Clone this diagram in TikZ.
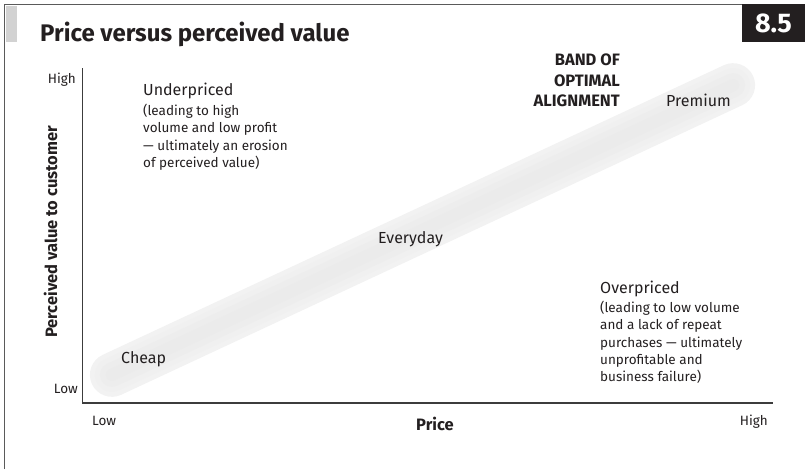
\documentclass[tikz,border=0pt]{standalone}
\usepackage{fontspec}
\setmainfont{Fira Sans}
\begin{document}
\definecolor{framegray}{HTML}{5A5A5A}
\definecolor{axisgray}{HTML}{3C3C3C}
\definecolor{bargray}{HTML}{D2D2D2}
\definecolor{boxblack}{HTML}{231F20}
\definecolor{txt}{HTML}{231F20}
\tikzset{
  lbl/.style={inner sep=0pt, text=txt, font=\fontsize{16}{19}\selectfont},
  sub/.style={inner sep=0pt, text=txt, align=left, font=\fontsize{13.5}{17.2}\selectfont},
  tick/.style={inner sep=0pt, text=txt, font=\fontsize{13.5}{15}\selectfont},
  bold/.style={inner sep=0pt, text=txt, font=\fontsize{16.5}{20.5}\bfseries\selectfont},
}
\begin{tikzpicture}[x=1pt,y=-1pt]
\useasboundingbox (0,0) rectangle (805,469);
% frame
\fill[bargray] (5.5,5.5) rectangle (16.5,42);
\draw[framegray, line width=1.6pt] (4.5,469) -- (4.5,4.5) -- (742,4.5);
\node[fill=boxblack, minimum width=63pt, minimum height=37.5pt, inner sep=0pt, anchor=north west] (badge) at (742,4) {};
\node[inner sep=0pt, anchor=base, text=white, font=\fontsize{27}{27}\bfseries\selectfont] (num) at (773.5,32) {8.5};
\node[inner sep=0pt, anchor=base west, text=txt, font=\fontsize{24}{26}\bfseries\selectfont] (title) at (40,41) {Price versus perceived value};
% band
\begin{scope}[shift={(422.5,230)}, rotate=25]
  \shade[left color=black!5, middle color=black!12, right color=black!5, rounded corners=22pt] (-364.7,-22) rectangle (364.7,22);
  \shade[left color=black!6, middle color=black!15, right color=black!6, rounded corners=17pt] (-359.7,-17) rectangle (359.7,17);
  \shade[left color=black!7, middle color=black!18, right color=black!7, rounded corners=12pt] (-354.7,-12) rectangle (354.7,12);
  \shade[left color=black!8, middle color=black!21, right color=black!8, rounded corners=6pt] (-348.7,-6) rectangle (348.7,6);
\end{scope}
% axes
\coordinate (ytop) at (82.5,68);
\coordinate (orig) at (82.5,403);
\coordinate (xend) at (772.5,403);
\draw[axisgray, line width=1.5pt] (ytop) -- (orig) -- (xend);
% ticks
\node[tick, anchor=base east] (yhigh) at (76,83) {High};
\node[tick, anchor=base east] (ylow) at (78,393) {Low};
\node[tick, anchor=base west] (xlow) at (92,425) {Low};
\node[tick, anchor=base east] (xhigh) at (768,425) {High};
\node[bold, anchor=base] (xlab) at (435,430) {Price};
\node[bold, anchor=base, rotate=90] (ylab) at (57,232) {Perceived value to customer};
% labels
\node[lbl, anchor=base west] (under) at (143,95.7) {Underpriced};
\node[sub, anchor=north west] (undersub) at (143,104) {(leading to high\\volume and low profit\\— ultimately an erosion\\of perceived value)};
\node[bold, align=right, anchor=north east] (band) at (620,54) {BAND OF\\OPTIMAL\\ALIGNMENT};
\node[lbl, anchor=base west] (prem) at (666,106) {Premium};
\node[lbl, anchor=base west] (every) at (378,243) {Everyday};
\node[lbl, anchor=base west] (cheap) at (121,363) {Cheap};
\node[lbl, anchor=base west] (over) at (600,293) {Overpriced};
\node[sub, anchor=north west] (oversub) at (600,301) {(leading to low volume\\and a lack of repeat\\purchases — ultimately\\unprofitable and\\business failure)};
\end{tikzpicture}
\end{document}
